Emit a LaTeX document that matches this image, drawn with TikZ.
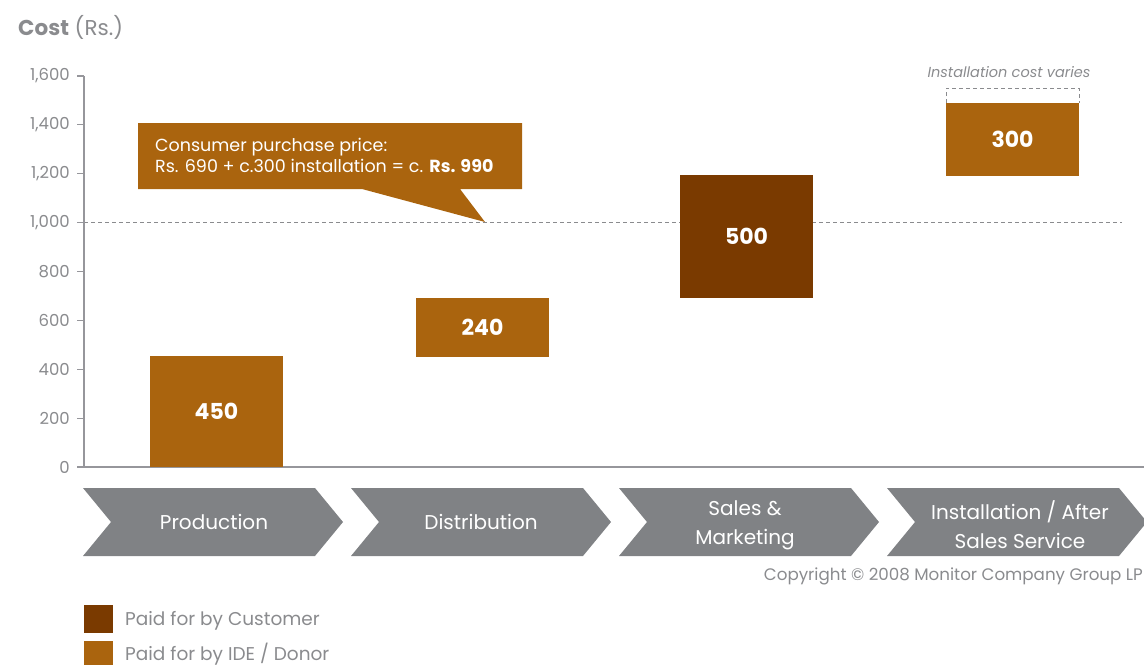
\documentclass[tikz,border=0pt]{standalone}
\usepackage{fontspec}
\setmainfont{Poppins}
\definecolor{lightbar}{RGB}{170,100,14}
\definecolor{darkbar}{RGB}{122,58,0}
\definecolor{chev}{RGB}{128,130,133}
\definecolor{txt}{RGB}{138,139,142}
\definecolor{axisc}{RGB}{150,150,155}
\newcommand{\fs}[2]{\fontsize{#1}{#2}\selectfont}
\begin{document}
\begin{tikzpicture}[x=1pt,y=-1pt,
  bar/.style={fill=lightbar, inner sep=0pt, outer sep=0pt, anchor=north west, text=white, font=\bfseries\fs{22}{22}},
  darkbarbox/.style={bar, fill=darkbar},
  ticklab/.style={anchor=east, text=txt, font=\fs{16.5}{16.5}, inner sep=0pt},
  chevshape/.style={fill=chev, draw=none},
  chevlab/.style={text=white, font=\fs{20}{29}, align=center, inner sep=0pt},
  legtext/.style={anchor=west, text=txt, font=\fs{18.5}{18.5}, inner sep=0pt},
  axisline/.style={draw=axisc, line width=1.2pt},
  dashline/.style={draw=txt, dashed, dash pattern=on 4pt off 3pt, line width=0.8pt}]
\useasboundingbox (0,0) rectangle (1144,665);
% title
\node[anchor=west, text=txt, inner sep=0pt] (title) at (18,27) {\fs{21.5}{21.5}\textbf{Cost} (Rs.)};
% dashed 1000 line
\coordinate (d0) at (84,222.5);
\coordinate (d1) at (1122,222.5);
\draw[dashline] (d0) -- (d1);
% axes
\coordinate (ytop) at (84,76);
\coordinate (orig) at (84,467);
\coordinate (xend) at (1144,467);
\draw[axisline] (ytop) -- (orig) -- (xend);
\foreach \v/\l in {0/0,200/200,400/400,600/600,800/800,1000/{1,000},1200/{1,200},1400/{1,400},1600/{1,600}}{
  \draw[axisline] (77,{467-\v*0.24438}) -- (84,{467-\v*0.24438});
  \node[ticklab] at (70,{467-\v*0.24438}) {\l};
}
% bars
\node[bar, minimum width=133pt, minimum height=111pt] (b1) at (150,356) {450};
\node[bar, minimum width=133pt, minimum height=59pt] (b2) at (416,298) {240};
\node[darkbarbox, minimum width=133pt, minimum height=123pt] (b3) at (680,175) {500};
\node[bar, minimum width=133pt, minimum height=73pt] (b4) at (946,103) {300};
\draw[dashline] (b4.north west) -- ++(0,-15) -- ++(133,0) -- (b4.north east);
\node[text=txt, font=\itshape\fs{14.5}{14.5}, inner sep=0pt] (varies) at (1009,72) {Installation cost varies};
% callout
\fill[lightbar] (138,123) -- (522,123) -- (522,189) -- (460,189) -- (485,222) -- (362,189) -- (138,189) -- cycle;
\node[anchor=west, text=white, font=\fs{17.5}{21}, align=left, inner sep=0pt] (callout) at (155,155)
  {Consumer purchase price:\\Rs. 690 + c.300 installation = c. \textbf{Rs. 990}};
% chevrons
\foreach \i/\x in {1/83,2/351,3/619,4/887}{
  \fill[chevshape] (\x,488) -- (\x+232,488) -- (\x+260,522) -- (\x+232,556) -- (\x,556) -- (\x+28,522) -- cycle;
}
\node[chevlab] (c1) at (214,522) {Production};
\node[chevlab] (c2) at (481,522) {Distribution};
\node[chevlab] (c3) at (745,525) {Sales \&\\Marketing};
\node[chevlab] (c4) at (1020,525) {Installation / After\\Sales Service};
% copyright
\node[anchor=east, text=txt, font=\fs{16.7}{16.7}, inner sep=0pt] (copy) at (1143,576) {Copyright © 2008 Monitor Company Group LP};
% legend
\node[fill=darkbar, minimum width=29pt, minimum height=28pt, inner sep=0pt, anchor=north west] (l1) at (84,605) {};
\node[fill=lightbar, minimum width=29pt, minimum height=24pt, inner sep=0pt, anchor=north west] (l2) at (84,641) {};
\node[legtext] (lt1) at (125,621) {Paid for by Customer};
\node[legtext] (lt2) at (125,654) {Paid for by IDE / Donor};
\end{tikzpicture}
\end{document}
